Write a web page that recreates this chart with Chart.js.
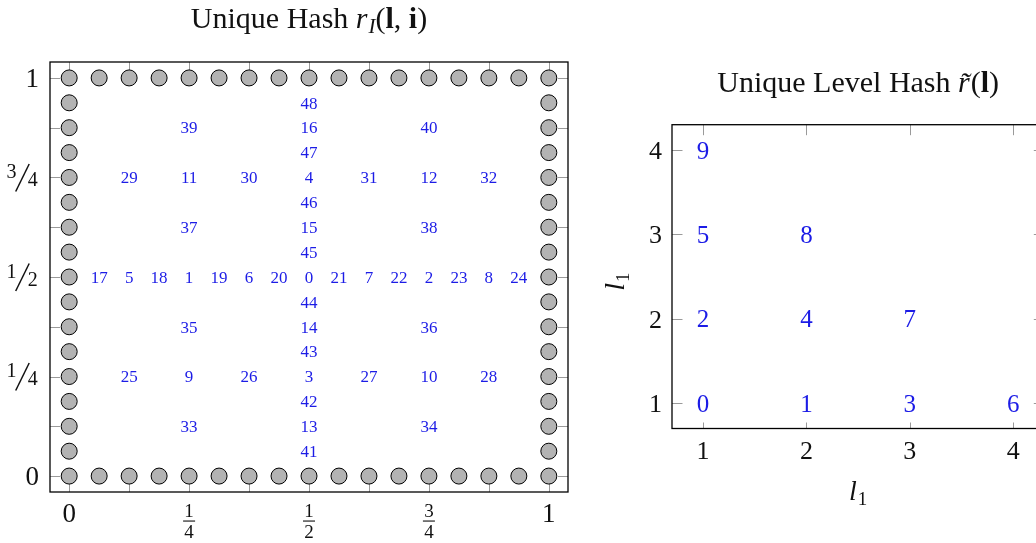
<!DOCTYPE html>
<html>
<head>
<meta charset="utf-8">
<title>Unique Hash</title>
<script src="https://cdn.jsdelivr.net/npm/chart.js@4.4.1/dist/chart.umd.min.js"></script>
<style>
  html, body { margin:0; padding:0; background:#ffffff; width:1036px; height:543px; overflow:hidden; }
  canvas { position:absolute; top:0; }
  #hashChart { left:0; }
  #levelChart { left:580px; }
</style>
</head>
<body>
<canvas id="hashChart" width="600" height="543"></canvas>
<canvas id="levelChart" width="480" height="543"></canvas>
<script>
// ---------- sparse grid: unique hash r_I(l, i) ----------
// grid coordinates of the boundary nodes (step 1/16)
const gridSteps = [0, 0.0625, 0.125, 0.1875, 0.25, 0.3125, 0.375, 0.4375, 0.5,
                   0.5625, 0.625, 0.6875, 0.75, 0.8125, 0.875, 0.9375, 1];

// interior nodes, listed by hash id 0..48
const hashIds = [0, 1, 2, 3, 4, 5, 6, 7, 8, 9, 10, 11, 12, 13, 14, 15, 16,
                 17, 18, 19, 20, 21, 22, 23, 24, 25, 26, 27, 28, 29, 30, 31, 32,
                 33, 34, 35, 36, 37, 38, 39, 40, 41, 42, 43, 44, 45, 46, 47, 48];
const hashX = [0.5, 0.25, 0.75, 0.5, 0.5, 0.125, 0.375, 0.625, 0.875, 0.25, 0.75, 0.25, 0.75,
               0.5, 0.5, 0.5, 0.5,
               0.0625, 0.1875, 0.3125, 0.4375, 0.5625, 0.6875, 0.8125, 0.9375,
               0.125, 0.375, 0.625, 0.875, 0.125, 0.375, 0.625, 0.875,
               0.25, 0.75, 0.25, 0.75, 0.25, 0.75, 0.25, 0.75,
               0.5, 0.5, 0.5, 0.5, 0.5, 0.5, 0.5, 0.5];
const hashY = [0.5, 0.5, 0.5, 0.25, 0.75, 0.5, 0.5, 0.5, 0.5, 0.25, 0.25, 0.75, 0.75,
               0.125, 0.375, 0.625, 0.875,
               0.5, 0.5, 0.5, 0.5, 0.5, 0.5, 0.5, 0.5,
               0.25, 0.25, 0.25, 0.25, 0.75, 0.75, 0.75, 0.75,
               0.125, 0.125, 0.375, 0.375, 0.625, 0.625, 0.875, 0.875,
               0.0625, 0.1875, 0.3125, 0.4375, 0.5625, 0.6875, 0.8125, 0.9375];

const hashMajorTicks = [0, 0.25, 0.5, 0.75, 1];
const hashMinorTicks = [0.125, 0.375, 0.625, 0.875];
const hashTickLabels = ['0', '1/4', '1/2', '3/4', '1'];

// ---------- level hash r~(l) ----------
const levelIds = [0, 1, 2, 3, 4, 5, 6, 7, 8, 9];
const levelX   = [1, 2, 1, 3, 2, 1, 4, 3, 2, 1];
const levelY   = [1, 1, 2, 1, 2, 3, 1, 2, 3, 4];
const levelTicks = [1, 2, 3, 4];
const levelTickLabels = ['1', '2', '3', '4'];

// ---------- drawing helpers ----------
const SERIF = '"Liberation Serif", "DejaVu Serif", serif';
const BLUE = '#1c1ce6';
const TICK_GRAY = '#9a9a9a';

function drawRuns(ctx, runs, cx, baseline) {
  let total = 0;
  runs.forEach(r => { ctx.font = r.font; r.w = ctx.measureText(r.t).width + (r.after || 0); total += r.w; });
  let x = cx - total / 2;
  ctx.textAlign = 'left';
  ctx.textBaseline = 'alphabetic';
  runs.forEach(r => { ctx.font = r.font; ctx.fillText(r.t, x, baseline + (r.dy || 0)); x += r.w; });
}

function drawFrame(ctx, a) {
  ctx.save();
  ctx.strokeStyle = '#000';
  ctx.lineWidth = 1.3;
  ctx.strokeRect(a.left, a.top, a.right - a.left, a.bottom - a.top);
  ctx.restore();
}

function drawInnerTicks(ctx, a, xs, ys, xScale, yScale, len, lenBottom) {
  ctx.save();
  ctx.strokeStyle = TICK_GRAY;
  ctx.lineWidth = 1;
  ctx.beginPath();
  xs.forEach(v => {
    const px = Math.round(xScale.getPixelForValue(v)) + 0.5;
    ctx.moveTo(px, a.bottom); ctx.lineTo(px, a.bottom - lenBottom);
    ctx.moveTo(px, a.top); ctx.lineTo(px, a.top + len);
  });
  ys.forEach(v => {
    const py = Math.round(yScale.getPixelForValue(v)) + 0.5;
    ctx.moveTo(a.left, py); ctx.lineTo(a.left + len, py);
    ctx.moveTo(a.right, py); ctx.lineTo(a.right - len, py);
  });
  ctx.stroke();
  ctx.restore();
}

function drawPointLabels(ctx, meta, ids, size) {
  ctx.save();
  ctx.fillStyle = BLUE;
  ctx.font = size + 'px ' + SERIF;
  ctx.textAlign = 'center';
  ctx.textBaseline = 'alphabetic';
  meta.data.forEach((pt, i) => {
    ctx.fillText(String(ids[i]), pt.x, pt.y + size * 0.34);
  });
  ctx.restore();
}

// ---------- sparse grid chart ----------
const boundaryPoints = [];
gridSteps.forEach(v => { boundaryPoints.push({x: v, y: 0}); boundaryPoints.push({x: v, y: 1}); });
gridSteps.slice(1, -1).forEach(v => { boundaryPoints.push({x: 0, y: v}); boundaryPoints.push({x: 1, y: v}); });

const hashPoints = hashIds.map((id, i) => ({x: hashX[i], y: hashY[i]}));

const hashDecor = {
  id: 'hashDecor',
  beforeDatasetsDraw(chart) {
    const a = chart.chartArea, sx = chart.scales.x, sy = chart.scales.y;
    const all = hashMajorTicks.concat(hashMinorTicks);
    drawInnerTicks(chart.ctx, a, all, all, sx, sy, 10, 10);
  },
  afterDatasetsDraw(chart) {
    const ctx = chart.ctx, a = chart.chartArea, sx = chart.scales.x, sy = chart.scales.y;
    drawPointLabels(ctx, chart.getDatasetMeta(1), hashIds, 17);
    drawFrame(ctx, a);

    ctx.save();
    ctx.fillStyle = '#111';
    // y tick labels
    hashMajorTicks.forEach((v, i) => {
      const lab = hashTickLabels[i];
      const y0 = sy.getPixelForValue(v);
      const R = a.left - 12;
      if (lab.indexOf('/') < 0) {
        ctx.font = '27px ' + SERIF; ctx.textAlign = 'right'; ctx.textBaseline = 'alphabetic';
        ctx.fillText(lab, R + 1, y0 + 9);
      } else {
        const [n, d] = lab.split('/');
        ctx.font = '20px ' + SERIF; ctx.textAlign = 'center'; ctx.textBaseline = 'alphabetic';
        ctx.fillText(n, R - 26.5, y0 + 0.5);
        ctx.fillText(d, R - 5.2, y0 + 8.5);
        ctx.strokeStyle = '#111'; ctx.lineWidth = 1.5;
        ctx.beginPath(); ctx.moveTo(R - 22.3, y0 + 14); ctx.lineTo(R - 8.8, y0 - 13.5); ctx.stroke();
      }
    });
    // x tick labels
    hashMajorTicks.forEach((v, i) => {
      const lab = hashTickLabels[i];
      const x0 = sx.getPixelForValue(v);
      ctx.textAlign = 'center'; ctx.textBaseline = 'alphabetic';
      if (lab.indexOf('/') < 0) {
        ctx.font = '27px ' + SERIF;
        ctx.fillText(lab, x0, a.bottom + 29.5);
      } else {
        const [n, d] = lab.split('/');
        ctx.font = '19px ' + SERIF;
        ctx.fillText(n, x0, a.bottom + 25.3);
        ctx.fillText(d, x0, a.bottom + 46.3);
        ctx.fillRect(x0 - 6, a.bottom + 28.5, 12, 1.1);
      }
    });
    // title
    drawRuns(ctx, [
      {t: 'Unique Hash ', font: '30px ' + SERIF},
      {t: 'r', font: 'italic 30px ' + SERIF, after: 1},
      {t: 'I', font: 'italic 21px ' + SERIF, dy: 5},
      {t: '(', font: '30px ' + SERIF},
      {t: 'l', font: 'bold 30px ' + SERIF},
      {t: ', ', font: '30px ' + SERIF},
      {t: 'i', font: 'bold 30px ' + SERIF},
      {t: ')', font: '30px ' + SERIF}
    ], (a.left + a.right) / 2, 28);
    ctx.restore();
  }
};

new Chart(document.getElementById('hashChart'), {
  type: 'scatter',
  data: {
    datasets: [
      { data: boundaryPoints, pointRadius: 8, pointBackgroundColor: '#b3b3b3',
        pointBorderColor: '#000', pointBorderWidth: 1, showLine: false },
      { data: hashPoints, pointRadius: 0, showLine: false }
    ]
  },
  options: {
    responsive: false, animation: false, events: [],
    layout: { padding: { left: 50, right: 32, top: 62, bottom: 51 } },
    plugins: { legend: { display: false }, tooltip: { enabled: false } },
    scales: {
      x: { type: 'linear', min: -0.04, max: 1.04, display: false },
      y: { type: 'linear', min: -0.04, max: 1.04, display: false }
    }
  },
  plugins: [hashDecor]
});

// ---------- level hash chart ----------
const levelPoints = levelIds.map((id, i) => ({x: levelX[i], y: levelY[i]}));

const levelDecor = {
  id: 'levelDecor',
  beforeDatasetsDraw(chart) {
    drawInnerTicks(chart.ctx, chart.chartArea, levelTicks, levelTicks,
                   chart.scales.x, chart.scales.y, 10.5, 6);
  },
  afterDatasetsDraw(chart) {
    const ctx = chart.ctx, a = chart.chartArea, sx = chart.scales.x, sy = chart.scales.y;
    drawPointLabels(ctx, chart.getDatasetMeta(0), levelIds, 25);
    drawFrame(ctx, a);

    ctx.save();
    ctx.fillStyle = '#111';
    ctx.font = '26px ' + SERIF;
    ctx.textBaseline = 'alphabetic';
    levelTicks.forEach((v, i) => {
      ctx.textAlign = 'right';
      ctx.fillText(levelTickLabels[i], a.left - 10, sy.getPixelForValue(v) + 9);
      ctx.textAlign = 'center';
      ctx.fillText(levelTickLabels[i], sx.getPixelForValue(v), a.bottom + 30.5);
    });
    const axisRuns = () => [
      {t: 'l', font: 'italic 28px ' + SERIF, after: 1},
      {t: '1', font: '19px ' + SERIF, dy: 5}
    ];
    // x axis title
    drawRuns(ctx, axisRuns(), (a.left + a.right) / 2, a.bottom + 71.5);
    // y axis title
    ctx.save();
    ctx.translate(a.left - 48, (a.top + a.bottom) / 2 + 5);
    ctx.rotate(-Math.PI / 2);
    drawRuns(ctx, axisRuns(), 0, 0);
    ctx.restore();
    // title
    drawRuns(ctx, [
      {t: 'Unique Level Hash ', font: '30px ' + SERIF},
      {t: 'r\u0303', font: 'italic 30px ' + SERIF, after: 1},
      {t: '(', font: '30px ' + SERIF},
      {t: 'l', font: 'bold 30px ' + SERIF},
      {t: ')', font: '30px ' + SERIF}
    ], (a.left + a.right) / 2, a.top - 32.5);
    ctx.restore();
  }
};

new Chart(document.getElementById('levelChart'), {
  type: 'scatter',
  data: { datasets: [ { data: levelPoints, pointRadius: 0, showLine: false } ] },
  options: {
    responsive: false, animation: false, events: [],
    layout: { padding: { left: 92, right: 15.7, top: 124.7, bottom: 114.5 } },
    plugins: { legend: { display: false }, tooltip: { enabled: false } },
    scales: {
      x: { type: 'linear', min: 0.7, max: 4.3, display: false },
      y: { type: 'linear', min: 0.7, max: 4.3, display: false }
    }
  },
  plugins: [levelDecor]
});
</script>
</body>
</html>
